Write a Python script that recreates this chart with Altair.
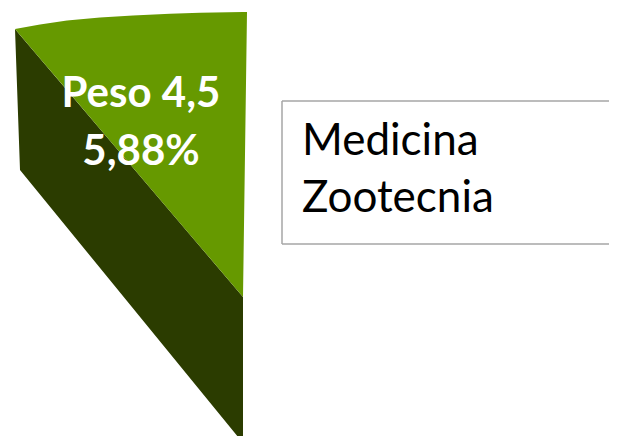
import altair as alt
import pandas as pd

# --- data (page-pixel space of the cropped 3D pie slice) ---
# side (cut) face of the slice
side_x = [15, 20, 243]
side_top = [29, 34.9, 297]
side_bottom = [29, 170, 443]

# top face of the slice
top_x = [15, 40, 67, 100, 133, 170, 200, 243, 247]
top_rim = [29, 24.5, 20.5, 17.5, 15.5, 13.8, 12.8, 12.1, 12]
top_cut = [29, 58.4, 90.1, 129.0, 167.7, 211.2, 246.4, 297, 12]

label_lines = ["Peso 4,5", "5,88%"]
label_x = [141, 141]
label_y = [107, 165]

legend_lines = ["Medicina", "Zootecnia"]
legend_x = [302, 302]
legend_y = [155, 212]

# legend frame edges (right side lies outside the crop)
frame_x = [282, 282, 282]
frame_x2 = [609, 609, 282]
frame_y = [101, 244, 101]
frame_y2 = [101, 244, 244]

LIGHT = "#669900"
DARK = "#2b3c00"

xs = alt.Scale(domain=[8, 609], nice=False, zero=False)
ys = alt.Scale(domain=[8, 436], nice=False, zero=False, reverse=True)

side = alt.Chart(pd.DataFrame({"x": side_x, "y": side_top, "y2": side_bottom})).mark_area(
    color=DARK, interpolate="linear"
).encode(
    x=alt.X("x:Q", scale=xs, axis=None),
    y=alt.Y("y:Q", scale=ys, axis=None),
    y2="y2:Q",
)

top = alt.Chart(pd.DataFrame({"x": top_x, "y": top_rim, "y2": top_cut})).mark_area(
    color=LIGHT, interpolate="linear"
).encode(
    x=alt.X("x:Q", scale=xs, axis=None),
    y=alt.Y("y:Q", scale=ys, axis=None),
    y2="y2:Q",
)

labels = alt.Chart(pd.DataFrame({"t": label_lines, "x": label_x, "y": label_y})).mark_text(
    font="Lato", fontWeight="bold", fontSize=42, color="white", align="center", baseline="alphabetic"
).encode(
    x=alt.X("x:Q", scale=xs, axis=None),
    y=alt.Y("y:Q", scale=ys, axis=None),
    text="t:N",
)

frame = alt.Chart(pd.DataFrame({"x": frame_x, "x2": frame_x2, "y": frame_y, "y2": frame_y2})).mark_rule(
    color="#a6a6a6", strokeWidth=1.5
).encode(
    x=alt.X("x:Q", scale=xs, axis=None),
    x2="x2:Q",
    y=alt.Y("y:Q", scale=ys, axis=None),
    y2="y2:Q",
)

legend_text = alt.Chart(pd.DataFrame({"t": legend_lines, "x": legend_x, "y": legend_y})).mark_text(
    font="Lato", fontSize=44, color="black", align="left", baseline="alphabetic"
).encode(
    x=alt.X("x:Q", scale=xs, axis=None),
    y=alt.Y("y:Q", scale=ys, axis=None),
    text="t:N",
)

chart = alt.layer(side, top, labels, frame, legend_text).properties(
    width=601, height=428, padding=0, autosize=alt.AutoSizeParams(type="none")
).configure_view(stroke=None)

chart.save("out.html", embed_options={"renderer": "svg", "actions": False})
